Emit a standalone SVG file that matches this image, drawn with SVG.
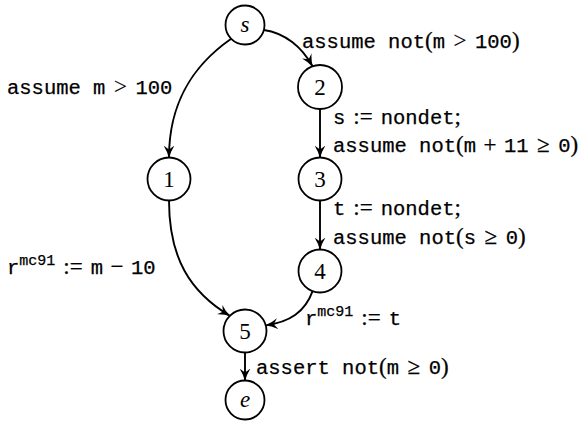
<svg xmlns="http://www.w3.org/2000/svg" width="584" height="424" viewBox="0 0 584 424">
<defs>
<marker id="arr" markerUnits="userSpaceOnUse" viewBox="0 0 13 11" refX="12" refY="5.5" markerWidth="13" markerHeight="11" orient="auto">
<path d="M0,0 Q6,4 13,5.5 Q6,7 0,11 L4,5.5 Z" fill="black"/>
</marker>
</defs>
<style>
.tt{font-family:"Liberation Mono",monospace;font-size:20.5px}
.rm{font-family:"Liberation Serif",serif;font-size:23px}
.sup{font-family:"Liberation Mono",monospace;font-size:15px}
.node circle{fill:white;stroke:black;stroke-width:1.8}
.node text{font-family:"Liberation Serif",serif;font-size:23px;text-anchor:middle}
.it{font-style:italic}
.edges path{fill:none;stroke:black;stroke-width:1.9;marker-end:url(#arr)}
#labels text{fill:black;stroke:black;stroke-width:0.25}
</style>
<rect width="584" height="424" fill="white"/>
<g class="edges">
<path d="M231.2,38.8 C195,64 169,100 169,157.5"/>
<path d="M263.8,30 C285,33 302,47 312.5,66.3"/>
<path d="M320,109 L320,157.5"/>
<path d="M320,200.5 L320,249.5"/>
<path d="M169,200.5 C169,258 190,292 229.8,315.8"/>
<path d="M312.6,291.2 C305,312 290,322 265.8,325.4"/>
<path d="M245,352.5 L245,380.5"/>
</g>
<g id="node-s" class="node"><circle cx="245" cy="25" r="19.5"/><text class="it" x="245" y="32">s</text></g>
<g id="node-2" class="node"><circle cx="320" cy="87" r="22"/><text x="320" y="95">2</text></g>
<g id="node-1" class="node"><circle cx="169" cy="179" r="21.5"/><text x="169" y="187">1</text></g>
<g id="node-3" class="node"><circle cx="320" cy="179" r="21.5"/><text x="320" y="187">3</text></g>
<g id="node-4" class="node"><circle cx="320" cy="271" r="21.5"/><text x="320" y="279">4</text></g>
<g id="node-5" class="node"><circle cx="245" cy="331" r="21.5"/><text x="245" y="339">5</text></g>
<g id="node-e" class="node"><circle cx="245" cy="400" r="19.5"/><text class="it" x="245" y="407">e</text></g>
<g id="labels">
<text x="302" y="48"><tspan class="tt">assume not</tspan><tspan class="rm">(</tspan><tspan class="tt">m</tspan><tspan class="rm" dx="8.5">&gt;</tspan><tspan class="tt" dx="8.5">100</tspan><tspan class="rm">)</tspan></text>
<text x="7" y="94"><tspan class="tt">assume m</tspan><tspan class="rm" dx="8.5">&gt;</tspan><tspan class="tt" dx="8.5">100</tspan></text>
<text x="333" y="124"><tspan class="tt">s</tspan><tspan class="rm" dx="8">:=</tspan><tspan class="tt" dx="8">nondet</tspan><tspan class="rm">;</tspan></text>
<text x="333" y="152"><tspan class="tt">assume not</tspan><tspan class="rm">(</tspan><tspan class="tt">m</tspan><tspan class="rm" dx="7.5">+</tspan><tspan class="tt" dx="7.5">11</tspan><tspan class="rm" dx="8.5">≥</tspan><tspan class="tt" dx="8.5">0</tspan><tspan class="rm">)</tspan></text>
<text x="333" y="215"><tspan class="tt">t</tspan><tspan class="rm" dx="8">:=</tspan><tspan class="tt" dx="8">nondet</tspan><tspan class="rm">;</tspan></text>
<text x="333" y="244"><tspan class="tt">assume not</tspan><tspan class="rm">(</tspan><tspan class="tt">s</tspan><tspan class="rm" dx="8.5">≥</tspan><tspan class="tt" dx="8.5">0</tspan><tspan class="rm">)</tspan></text>
<text x="7" y="274"><tspan class="tt">r</tspan><tspan class="sup" dy="-9">mc91</tspan><tspan class="rm" dx="8" dy="9">:=</tspan><tspan class="tt" dx="8">m</tspan><tspan class="rm" dx="7.5">−</tspan><tspan class="tt" dx="7.5">10</tspan></text>
<text x="305" y="325"><tspan class="tt">r</tspan><tspan class="sup" dy="-9">mc91</tspan><tspan class="rm" dx="8" dy="9">:=</tspan><tspan class="tt" dx="8">t</tspan></text>
<text x="256" y="374"><tspan class="tt">assert not</tspan><tspan class="rm">(</tspan><tspan class="tt">m</tspan><tspan class="rm" dx="8.5">≥</tspan><tspan class="tt" dx="8.5">0</tspan><tspan class="rm">)</tspan></text>
</g>
</svg>
